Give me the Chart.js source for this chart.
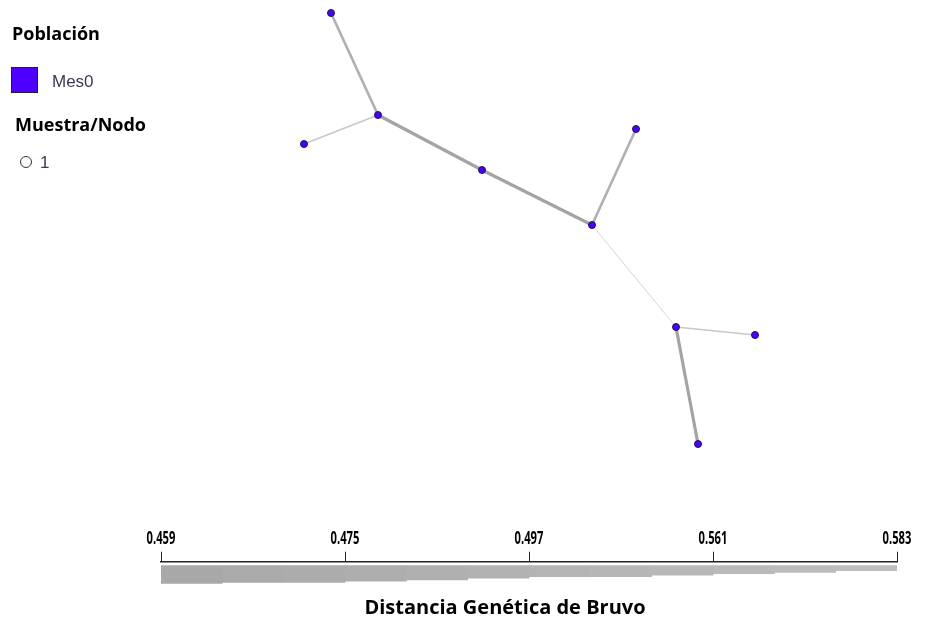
<!DOCTYPE html>
<html>
<head>
<meta charset="utf-8">
<script src="https://cdn.jsdelivr.net/npm/chart.js@4"></script>
<style>
  html, body { margin: 0; padding: 0; background: #fff; }
  #wrap { position: relative; width: 925px; height: 626px; overflow: hidden; }
  #net { position: absolute; left: 0; top: 0; }
  #bar { position: absolute; left: 0; top: 520px; }
  .lg { position: absolute; white-space: nowrap; }
  .hd { font-family: "Open Sans", sans-serif; font-weight: 700; font-size: 18px; line-height: 18px; color: #000; }
  .it { font-family: "Liberation Sans", Arial, sans-serif; font-size: 17px; line-height: 17px; color: #3a3a55; }
  #axisTitle { position: absolute; left: 0; width: 1010px; top: 597px; text-align: center; white-space: nowrap;
               font-family: "Open Sans", sans-serif; font-weight: 700; font-size: 20px; line-height: 20px; color: #000; }
</style>
</head>
<body>
<div id="wrap">
  <canvas id="net" width="925" height="626"></canvas>
  <canvas id="bar" width="925" height="106"></canvas>
  <div class="lg hd" style="left:12px; top:24px;">Población</div>
  <div class="lg" style="left:11px; top:67px; width:25px; height:24px; background:#4d00ff; border:1px solid #222;"></div>
  <div class="lg it" style="left:52px; top:73px;">Mes0</div>
  <div class="lg hd" style="left:15px; top:115px;">Muestra/Nodo</div>
  <div class="lg" style="left:20px; top:156px; width:10px; height:10px; border:1px solid #333; border-radius:50%;"></div>
  <div class="lg it" style="left:40px; top:154px;">1</div>
  <div id="axisTitle">Distancia Genética de Bruvo</div>
</div>
<script>
// Network layout of the multilocus genotypes (layout units)
const nodeX = [331, 378, 304, 482, 592, 636, 676, 755, 698];
const nodeY = [13, 115, 144, 170, 225, 129, 327, 335, 444];

// Minimum spanning network edges and their Bruvo distances
const edgeFrom = [0, 1, 1, 3, 4, 4, 6, 6];
const edgeTo   = [1, 2, 3, 4, 5, 6, 7, 8];
const edgeDist = [0.475, 0.561, 0.459, 0.459, 0.475, 0.583, 0.561, 0.459];

// Distance scale bar
const scaleTicks = ['0.459', '0.475', '0.497', '0.561', '0.583'];
const stepHeights = [18, 17, 17, 15.6, 14.3, 12.6, 11.2, 11.2, 9.5, 8.2, 6.8, 5.1];

const tickVals = scaleTicks.map(Number);

// Position of a distance along the scale bar (0 .. number of ticks - 1)
function scalePos(d) {
  for (let i = 0; i < tickVals.length - 1; i++) {
    if (d <= tickVals[i + 1]) {
      return i + (d - tickVals[i]) / (tickVals[i + 1] - tickVals[i]);
    }
  }
  return tickVals.length - 1;
}
function edgeWidth(d) { return 3.2 - 0.55 * scalePos(d); }
function edgeGrey(d) {
  const g = Math.round(164 + 12 * scalePos(d));
  return `rgb(${g},${g},${g})`;
}

const nodePoints = nodeX.map((x, i) => ({ x: x, y: nodeY[i] }));

const edgeSets = edgeFrom.map((a, i) => ({
  data: [nodePoints[a], nodePoints[edgeTo[i]]],
  showLine: true,
  pointRadius: 0,
  borderColor: edgeGrey(edgeDist[i]),
  borderWidth: edgeWidth(edgeDist[i]),
  clip: false
}));

new Chart(document.getElementById('net'), {
  type: 'scatter',
  data: {
    datasets: [{
      data: nodePoints,
      pointRadius: 3.5,
      pointBackgroundColor: '#4b00ff',
      pointBorderColor: '#1a1a40',
      pointBorderWidth: 1,
      clip: false
    }].concat(edgeSets)
  },
  options: {
    responsive: false,
    animation: false,
    events: [],
    layout: { padding: 0, autoPadding: false },
    plugins: { legend: { display: false }, tooltip: { enabled: false } },
    scales: {
      x: { type: 'linear', min: 0, max: 925, display: false },
      y: { type: 'linear', min: 0, max: 626, reverse: true, display: false }
    }
  }
});

const stepColors = stepHeights.map((_, i) => {
  const g = Math.round(168 + (22 * i) / (stepHeights.length - 1));
  return `rgb(${g},${g},${g})`;
});

// Draws the scale-bar tick labels in a condensed face (horizontal squeeze)
const condensedTicks = {
  id: 'condensedTicks',
  beforeDraw(chart) {
    const sc = chart.scales.xt;
    if (!sc || sc._condensed) return;
    const drawLabels = sc.drawLabels.bind(sc);
    sc.drawLabels = function (area) {
      const ctx = chart.ctx;
      const fill = ctx.fillText;
      ctx.fillText = function (t, x, y) {
        this.save();
        this.translate(x, y);
        this.scale(0.66, 1);
        fill.call(this, t, 0, 0);
        this.restore();
      };
      drawLabels(area);
      ctx.fillText = fill;
    };
    sc._condensed = true;
  }
};

new Chart(document.getElementById('bar'), {
  type: 'bar',
  data: {
    labels: stepHeights.map((_, i) => String(i)),
    datasets: [{
      data: stepHeights.map(h => [-4 - h, -4]),
      backgroundColor: stepColors,
      borderWidth: 0,
      barPercentage: 1,
      categoryPercentage: 1,
      xAxisID: 'x',
      yAxisID: 'y'
    }]
  },
  options: {
    responsive: false,
    animation: false,
    events: [],
    layout: { padding: { left: 161, right: 28, top: 7, bottom: 0 }, autoPadding: false },
    scales: {
      x: { display: false },
      y: { display: false, min: -65, max: 0 },
      xt: {
        type: 'linear',
        position: 'top',
        offset: false,
        min: 0,
        max: scaleTicks.length - 1,
        ticks: {
          stepSize: 1,
          autoSkip: false,
          maxRotation: 0,
          padding: 3,
          color: '#000',
          font: { family: '"Open Sans", sans-serif', weight: 'bold', size: 17, lineHeight: 1.1 },
          callback: v => scaleTicks[v]
        },
        grid: { offset: false, drawOnChartArea: false, drawTicks: true, tickLength: 10, color: '#222', tickWidth: 1 },
        border: { display: true, color: '#222', width: 1.5 }
      }
    },
    plugins: {
      legend: { display: false },
      tooltip: { enabled: false }
    }
  },
  plugins: [condensedTicks]
});
</script>
</body>
</html>
